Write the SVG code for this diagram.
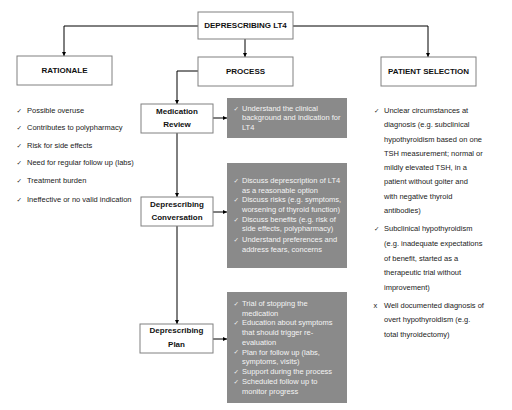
<svg xmlns="http://www.w3.org/2000/svg" width="512" height="410" viewBox="0 0 512 410">
<defs>
<marker id="ah" viewBox="0 0 6 6" refX="6" refY="3" markerWidth="4" markerHeight="4" orient="auto" markerUnits="userSpaceOnUse">
<path d="M0,0 L6,3 L0,6 z" fill="#000"/>
</marker>
</defs>
<style>
.box{fill:#fff;stroke:#808080;stroke-width:1}
.gbox{fill:#8a8a8a;stroke:none}
.bt{font-family:"Liberation Sans",Arial,sans-serif;font-weight:bold;font-size:8px;fill:#111;text-anchor:middle;dominant-baseline:middle}
.lt{font-family:"Liberation Sans",Arial,sans-serif;font-size:7.5px;fill:#222;dominant-baseline:middle}
.wt{font-family:"Liberation Sans",Arial,sans-serif;font-size:7.5px;fill:#f4f4f4;dominant-baseline:middle}
.ck{font-family:"DejaVu Sans",sans-serif;font-size:6.5px;dominant-baseline:middle}
.ckd{fill:#222}
.ckw{fill:#f4f4f4}
.ln{fill:none;stroke:#000;stroke-width:1}
</style>
<rect width="512" height="410" fill="#fff"/>
<g id="connectors">
<path class="ln" d="M198,26 H64 V56" marker-end="url(#ah)"/>
<path class="ln" d="M293,26 H428 V57" marker-end="url(#ah)"/>
<path class="ln" d="M245,39 V57" marker-end="url(#ah)"/>
<path class="ln" d="M198,71 H177 V104" marker-end="url(#ah)"/>
<path class="ln" d="M177,133 V197" marker-end="url(#ah)"/>
<path class="ln" d="M177,226 V324" marker-end="url(#ah)"/>
<path class="ln" d="M213,118 H227" marker-end="url(#ah)"/>
<path class="ln" d="M213,212 H227" marker-end="url(#ah)"/>
<path class="ln" d="M213,339 H227" marker-end="url(#ah)"/>
</g>
<g id="root">
<rect class="box" x="198" y="12" width="95" height="27"/>
<text class="bt" x="245.5" y="26">DEPRESCRIBING LT4</text>
</g>
<g id="rationale">
<rect class="box" x="17" y="56" width="95" height="29"/>
<text class="bt" x="64.5" y="71">RATIONALE</text>
</g>
<g id="process">
<rect class="box" x="198" y="57" width="95" height="29"/>
<text class="bt" x="245.5" y="71.5">PROCESS</text>
</g>
<g id="patient-selection">
<rect class="box" x="381" y="57" width="95" height="29"/>
<text class="bt" x="428.5" y="71.5">PATIENT SELECTION</text>
</g>
<g id="rationale-list">
<text class="ck ckd" x="16.5" y="111">✓</text><text class="lt" x="27" y="111">Possible overuse</text>
<text class="ck ckd" x="16.5" y="128">✓</text><text class="lt" x="27" y="128">Contributes to polypharmacy</text>
<text class="ck ckd" x="16.5" y="146">✓</text><text class="lt" x="27" y="146">Risk for side effects</text>
<text class="ck ckd" x="16.5" y="163">✓</text><text class="lt" x="27" y="163">Need for regular follow up (labs)</text>
<text class="ck ckd" x="16.5" y="181">✓</text><text class="lt" x="27" y="181">Treatment burden</text>
<text class="ck ckd" x="16.5" y="200">✓</text><text class="lt" x="27" y="200">Ineffective or no valid indication</text>
</g>
<g id="medication-review">
<rect class="box" x="141" y="104" width="72" height="29"/>
<text class="bt" x="177" y="112">Medication</text>
<text class="bt" x="177" y="125">Review</text>
</g>
<g id="review-details">
<rect class="gbox" x="227" y="98" width="120" height="40"/>
<text class="ck ckw" x="233.5" y="109">✓</text>
<text class="wt" x="242" y="109">Understand the clinical</text>
<text class="wt" x="242" y="118.3">background and indication for</text>
<text class="wt" x="242" y="127.6">LT4</text>
</g>
<g id="deprescribing-conversation">
<rect class="box" x="141" y="197" width="72" height="29"/>
<text class="bt" x="177" y="204.5">Deprescribing</text>
<text class="bt" x="177" y="218">Conversation</text>
</g>
<g id="conversation-details">
<rect class="gbox" x="227" y="163" width="120" height="105"/>
<text class="ck ckw" x="233.5" y="181">✓</text>
<text class="wt" x="242" y="181">Discuss deprescription of LT4</text>
<text class="wt" x="242" y="190.7">as a reasonable option</text>
<text class="ck ckw" x="233.5" y="200.4">✓</text>
<text class="wt" x="242" y="200.4">Discuss risks (e.g. symptoms,</text>
<text class="wt" x="242" y="210.1">worsening of thyroid function)</text>
<text class="ck ckw" x="233.5" y="219.8">✓</text>
<text class="wt" x="242" y="219.8">Discuss  benefits (e.g. risk of</text>
<text class="wt" x="242" y="229.5">side effects, polypharmacy)</text>
<text class="ck ckw" x="233.5" y="239.9">✓</text>
<text class="wt" x="242" y="239.9">Understand preferences and</text>
<text class="wt" x="242" y="249.6">address fears, concerns</text>
</g>
<g id="deprescribing-plan">
<rect class="box" x="140" y="324" width="73" height="29"/>
<text class="bt" x="176.5" y="331">Deprescribing</text>
<text class="bt" x="176.5" y="344.5">Plan</text>
</g>
<g id="plan-details">
<rect class="gbox" x="227" y="292" width="120" height="111"/>
<text class="ck ckw" x="233.5" y="304">✓</text>
<text class="wt" x="242" y="304">Trial of stopping the</text>
<text class="wt" x="242" y="313.6">medication</text>
<text class="ck ckw" x="233.5" y="323.3">✓</text>
<text class="wt" x="242" y="323.3">Education about symptoms</text>
<text class="wt" x="242" y="333">that should trigger re-</text>
<text class="wt" x="242" y="342.7">evaluation</text>
<text class="ck ckw" x="233.5" y="352.6">✓</text>
<text class="wt" x="242" y="352.6">Plan for follow up (labs,</text>
<text class="wt" x="242" y="362.3">symptoms, visits)</text>
<text class="ck ckw" x="233.5" y="372.2">✓</text>
<text class="wt" x="242" y="372.2">Support during the process</text>
<text class="ck ckw" x="233.5" y="381.9">✓</text>
<text class="wt" x="242" y="381.9">Scheduled follow up to</text>
<text class="wt" x="242" y="391.6">monitor progress</text>
</g>
<g id="patient-list">
<text class="ck ckd" x="374" y="111">✓</text>
<text class="lt" x="384" y="111">Unclear circumstances at</text>
<text class="lt" x="384" y="125.3">diagnosis (e.g. subclinical</text>
<text class="lt" x="384" y="139.6">hypothyroidism based on one</text>
<text class="lt" x="384" y="153.9">TSH measurement; normal or</text>
<text class="lt" x="384" y="168.2">mildly elevated TSH, in a</text>
<text class="lt" x="384" y="182.5">patient without goiter and</text>
<text class="lt" x="384" y="196.8">with negative thyroid</text>
<text class="lt" x="384" y="211.1">antibodies)</text>
<text class="ck ckd" x="374" y="229">✓</text>
<text class="lt" x="384" y="229">Subclinical hypothyroidism</text>
<text class="lt" x="384" y="244">(e.g. inadequate expectations</text>
<text class="lt" x="384" y="258.7">of benefit, started as a</text>
<text class="lt" x="384" y="273.4">therapeutic trial without</text>
<text class="lt" x="384" y="288">improvement)</text>
<text class="lt" x="373.5" y="306">x</text>
<text class="lt" x="384" y="306">Well documented diagnosis of</text>
<text class="lt" x="384" y="320.5">overt hypothyroidism (e.g.</text>
<text class="lt" x="384" y="335">total thyroidectomy)</text>
</g>
</svg>
